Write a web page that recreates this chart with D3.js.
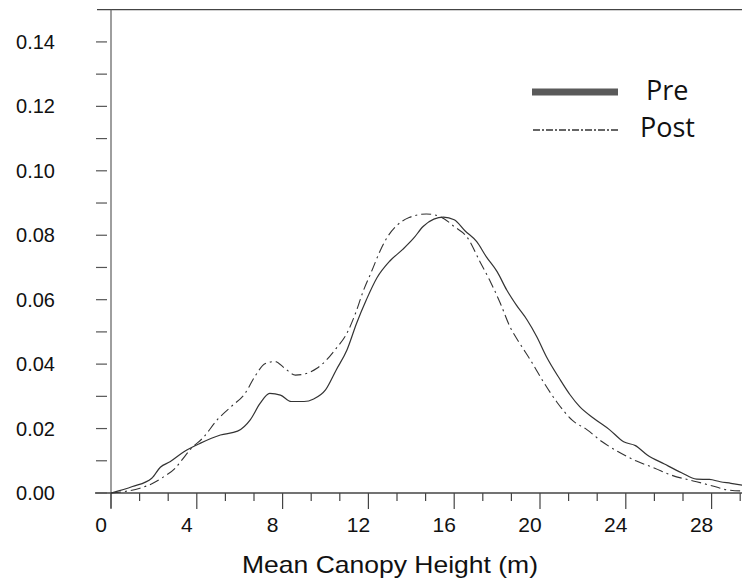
<!DOCTYPE html>
<html>
<head>
<meta charset="utf-8">
<script src="https://cdn.jsdelivr.net/npm/d3@7"></script>
<style>
  html, body { margin: 0; padding: 0; background: #fff; }
  svg { display: block; }
</style>
</head>
<body>
<svg width="742" height="580"></svg>
<script>
const preHeight = [0, 1.0, 1.9, 2.3, 2.75, 3.4, 4.15, 5.1, 5.9, 6.5, 6.95, 7.4, 7.9, 8.4, 9.0, 9.45, 10.0, 10.5, 11.0, 11.45, 11.9, 12.4, 13.0, 13.6, 14.1, 14.55, 15.05, 15.5, 16.0, 16.5, 17.05, 17.5, 18.0, 18.45, 18.9, 19.4, 19.85, 20.3, 20.9, 21.4, 21.85, 22.5, 23.25, 23.9, 24.45, 25.0, 25.8, 26.6, 27.3, 27.9, 28.4, 28.9, 29.6];
const preDensity = [0, 0.002, 0.0046, 0.008, 0.0097, 0.0128, 0.0154, 0.018, 0.0192, 0.0228, 0.0278, 0.0309, 0.0304, 0.0284, 0.0284, 0.0292, 0.032, 0.0382, 0.0444, 0.0527, 0.0599, 0.0668, 0.072, 0.0756, 0.079, 0.0827, 0.085, 0.0856, 0.0848, 0.0814, 0.078, 0.0733, 0.0687, 0.063, 0.0583, 0.0537, 0.0485, 0.0423, 0.0356, 0.0305, 0.0268, 0.0232, 0.0196, 0.0159, 0.0147, 0.0118, 0.009, 0.0063, 0.0043, 0.0042, 0.0035, 0.003, 0.0022];

const postHeight = [0, 1.35, 1.95, 2.45, 3.0, 3.3, 3.75, 4.3, 4.95, 5.6, 6.25, 6.7, 7.2, 7.65, 8.1, 8.6, 9.1, 9.6, 10.05, 10.5, 11.0, 11.4, 11.75, 12.15, 12.55, 12.9, 13.35, 13.9, 14.7, 15.4, 16.0, 16.6, 17.2, 17.65, 18.15, 18.6, 19.05, 19.55, 20.15, 20.8, 21.5, 22.2, 22.9, 23.65, 24.5, 25.35, 26.1, 27.3, 28.1, 28.7, 29.6];
const postDensity = [0, 0.0015, 0.003, 0.005, 0.0077, 0.0102, 0.0139, 0.0172, 0.0227, 0.0268, 0.0309, 0.0361, 0.0402, 0.0408, 0.0387, 0.0366, 0.0371, 0.0387, 0.0413, 0.0449, 0.0496, 0.0558, 0.0625, 0.0688, 0.0752, 0.0796, 0.0832, 0.0855, 0.0866, 0.0856, 0.0827, 0.0794, 0.0718, 0.0661, 0.0589, 0.0516, 0.0465, 0.0413, 0.0346, 0.0281, 0.0226, 0.0196, 0.0159, 0.0128, 0.0099, 0.0077, 0.0056, 0.0035, 0.0021, 0.001, 0.0006];

const xMajorTicks = [0, 4, 8, 12, 16, 20, 24, 28];
const yTickLabels = ["0.00", "0.02", "0.04", "0.06", "0.08", "0.10", "0.12", "0.14"];
const seriesNames = ["Pre", "Post"];
const xTitle = "Mean Canopy Height (m)";

const toPoints = (xs, ys) => xs.map((x, i) => ({ x, y: ys[i] }));

const x = d3.scaleLinear().domain([0, 30]).range([111, 111 + 30 * 21.45]);
const y = d3.scaleLinear().domain([0, 0.15]).range([493, 493 - 0.15 * 3222]);

const canvas = d3.select("svg");
const axisColor = "#6a6a6a";

// frame lines
canvas.append("line")
  .attr("x1", 97).attr("x2", 742)
  .attr("y1", y(0.15)).attr("y2", y(0.15))
  .style("stroke", "#444").style("stroke-width", 1.3);

canvas.append("line")
  .attr("x1", x(0)).attr("x2", x(0))
  .attr("y1", y(0.15)).attr("y2", 508)
  .style("stroke", axisColor).style("stroke-width", 1.3);

canvas.append("line")
  .attr("x1", 95).attr("x2", 742)
  .attr("y1", y(0)).attr("y2", y(0))
  .style("stroke", "#444").style("stroke-width", 1.3);

// y ticks, detached from the axis
const yMinor = d3.range(0, 15).map(i => i / 100);
canvas.selectAll(".ytick")
  .data(yMinor)
  .enter()
  .append("line")
  .attr("class", "ytick")
  .attr("x1", 96).attr("x2", 107)
  .attr("y1", d => y(d)).attr("y2", d => y(d))
  .style("stroke", "#555").style("stroke-width", 1.2);

canvas.selectAll(".ylabel")
  .data(yTickLabels)
  .enter()
  .append("text")
  .attr("class", "ylabel")
  .attr("x", 55)
  .attr("y", d => y(+d) + 7)
  .attr("text-anchor", "end")
  .style("font-family", "Arial, 'Liberation Sans', sans-serif")
  .style("font-size", "20px")
  .style("fill", "#111")
  .text(d => d);

// x ticks: majors every 4, three intervals between
const xTicks = d3.range(0, 23).map(i => i * 4 / 3).filter(v => v <= 29.7);
canvas.selectAll(".xtick")
  .data(xTicks)
  .enter()
  .append("line")
  .attr("class", "xtick")
  .attr("x1", d => x(d)).attr("x2", d => x(d))
  .attr("y1", y(0))
  .attr("y2", (d, i) => i % 3 === 0 ? 509 : 501)
  .style("stroke", "#444").style("stroke-width", 1.2);

canvas.selectAll(".xlabel")
  .data(xMajorTicks)
  .enter()
  .append("text")
  .attr("class", "xlabel")
  .attr("x", d => x(d) - 10)
  .attr("y", 531.5)
  .attr("text-anchor", "middle")
  .style("font-family", "Arial, 'Liberation Sans', sans-serif")
  .style("font-size", "21px")
  .style("fill", "#111")
  .text(d => d);

canvas.append("text")
  .attr("x", 390)
  .attr("y", 573)
  .attr("text-anchor", "middle")
  .attr("textLength", 296)
  .attr("lengthAdjust", "spacingAndGlyphs")
  .style("font-family", "Arial, 'Liberation Sans', sans-serif")
  .style("font-size", "24px")
  .style("fill", "#111")
  .text(xTitle);

// curves
const line = d3.line()
  .x(d => x(d.x))
  .y(d => y(d.y))
  .curve(d3.curveMonotoneX);

canvas.append("path")
  .datum(toPoints(preHeight, preDensity))
  .attr("d", line)
  .style("fill", "none")
  .style("stroke", "#333")
  .style("stroke-width", 1.2);

canvas.append("path")
  .datum(toPoints(postHeight, postDensity))
  .attr("d", line)
  .style("fill", "none")
  .style("stroke", "#333")
  .style("stroke-width", 1.1)
  .style("stroke-dasharray", "10,4,2,4");

// legend
canvas.append("line")
  .attr("x1", 532).attr("x2", 618)
  .attr("y1", 92).attr("y2", 92)
  .style("stroke", "#5a5a5a").style("stroke-width", 7);

canvas.append("line")
  .attr("x1", 533).attr("x2", 618)
  .attr("y1", 130).attr("y2", 130)
  .style("stroke", "#333").style("stroke-width", 1.3)
  .style("stroke-dasharray", "7,2,2,2");

canvas.selectAll(".legend")
  .data(seriesNames)
  .enter()
  .append("text")
  .attr("class", "legend")
  .attr("x", (d, i) => i === 0 ? 646 : 640)
  .attr("y", (d, i) => i === 0 ? 100 : 136.5)
  .style("font-family", "'Open Sans', sans-serif")
  .style("font-size", "27px")
  .style("fill", "#111")
  .text(d => d);
</script>
</body>
</html>
